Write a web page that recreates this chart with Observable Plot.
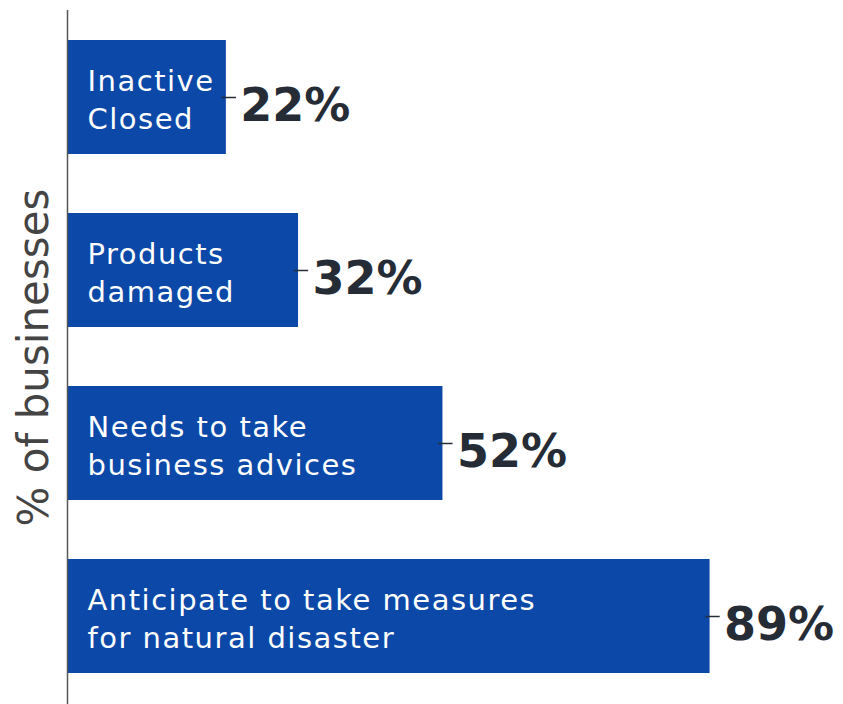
<!DOCTYPE html>
<html>
<head>
<meta charset="utf-8">
<script src="https://cdn.jsdelivr.net/npm/d3@7"></script>
<script src="https://cdn.jsdelivr.net/npm/@observablehq/plot@0.6"></script>
<style>
  html, body { margin: 0; padding: 0; background: #fff; }
  #chart svg { display: block; }
</style>
</head>
<body>
<div id="chart"></div>
<script>
const categories = [
  "Inactive\nClosed",
  "Products\ndamaged",
  "Needs to take\nbusiness advices",
  "Anticipate to take measures\nfor natural disaster"
];
const values = [22, 32, 52, 89];
const valueLabels = ["22%", "32%", "52%", "89%"];
const axisLabel = "% of businesses";

const data = categories.map((c, i) => ({category: c, value: values[i], label: valueLabels[i]}));

const blue = "#0b48a8";
const dark = "#262c36";
const font = "'DejaVu Sans', sans-serif";

const chart = Plot.plot({
  width: 843,
  height: 704,
  marginLeft: 67,
  marginRight: 54,
  marginTop: 10,
  marginBottom: 0,
  style: {fontFamily: font, background: "#fff"},
  x: {domain: [0, 100], axis: null},
  y: {domain: categories, axis: null, paddingInner: 0.34, paddingOuter: 0.165},
  marks: [
    Plot.barX(data, {y: "category", x: "value", fill: blue}),
    Plot.ruleY(data, {y: "category", x1: d => d.value - 0.6, x2: d => d.value + 1.4, stroke: dark, strokeWidth: 1.5}),
    Plot.text(data, {y: "category", x: 0, text: "category", textAnchor: "start", dx: 20, fill: "#fff", fontSize: 29, lineHeight: 1.33}),
    Plot.text(data, {y: "category", x: "value", text: "label", textAnchor: "start", dx: 14, dy: 9, fill: dark, fontSize: 46, fontWeight: 700}),
    Plot.ruleX([0], {stroke: "#555", strokeWidth: 1.5}),
    Plot.text([axisLabel], {frameAnchor: "left", rotate: -90, dx: -33, text: d => d, fill: "#444", fontSize: 42, textAnchor: "middle"})
  ]
});
const textGroups = chart.querySelectorAll('g[aria-label="text"]');
if (textGroups[0]) textGroups[0].setAttribute("letter-spacing", "1.5");
document.getElementById("chart").appendChild(chart);
</script>
</body>
</html>
